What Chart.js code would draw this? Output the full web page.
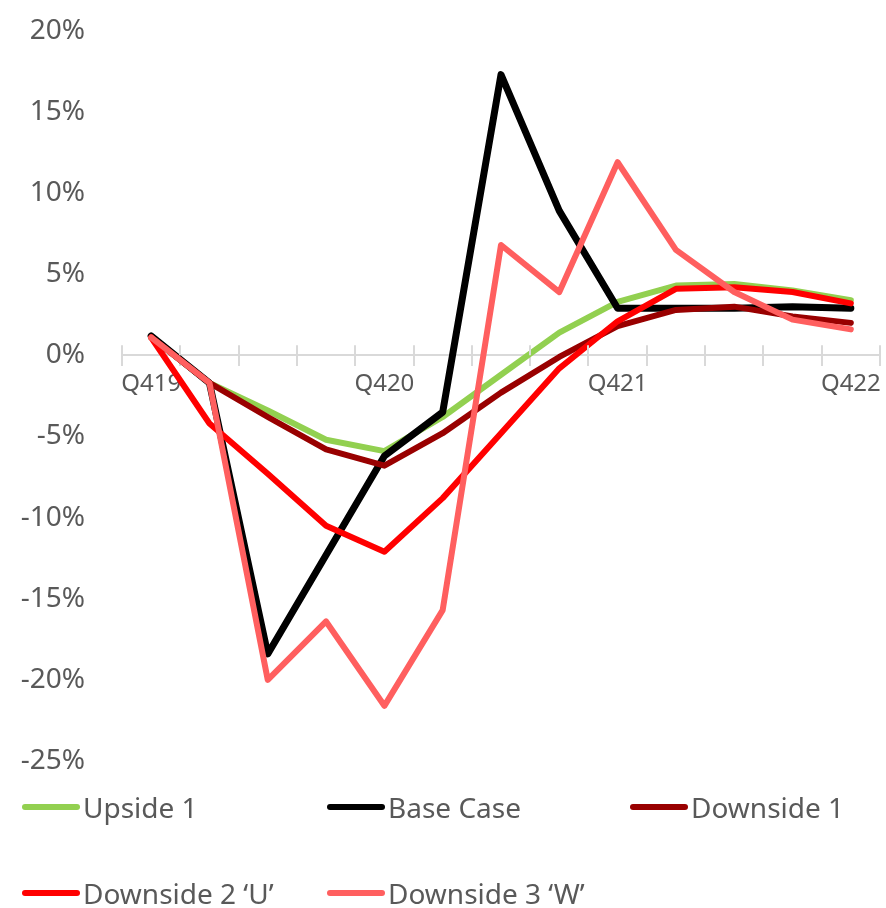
<!DOCTYPE html>
<html>
<head>
<meta charset="utf-8">
<script src="https://cdn.jsdelivr.net/npm/chart.js@4/dist/chart.umd.min.js"></script>
<style>
  html, body { margin: 0; padding: 0; background: #fff; overflow: hidden; }
  #wrap { position: relative; width: 886px; height: 908px; overflow: hidden; }
  #chart { position: absolute; left: 0; top: -23px; }
  .item { position: absolute; display: flex; align-items: center; font-family: "Noto Sans", sans-serif; font-size: 28px; color: #595959; white-space: nowrap; }
  .swatch { width: 58px; height: 6px; border-radius: 3px; margin-right: 3px; }
</style>
</head>
<body>
<div id="wrap">
  <canvas id="chart" width="886" height="931"></canvas>
</div>
<script>
// Quarterly labels (only every fourth one is shown on the axis)
const quarters = ['Q419', 'Q120', 'Q220', 'Q320', 'Q420', 'Q121', 'Q221', 'Q321', 'Q421', 'Q122', 'Q222', 'Q322', 'Q422'];

// Scenario paths, % change
const upside1     = [1.1, -1.7, -3.4, -5.2, -5.9, -3.8, -1.2, 1.4, 3.3, 4.3, 4.4, 4.0, 3.4];
const baseCase    = [1.2, -1.7, -18.4, -12.3, -6.2, -3.5, 17.3, 8.9, 2.9, 2.9, 2.9, 3.0, 2.9];
const downside1   = [1.1, -1.7, -3.8, -5.8, -6.8, -4.8, -2.3, -0.1, 1.8, 2.8, 3.0, 2.4, 2.0];
const downside2U  = [1.1, -4.2, -7.3, -10.5, -12.1, -8.8, -4.8, -0.8, 2.1, 4.1, 4.2, 3.9, 3.2];
const downside3W  = [1.1, -1.7, -20.0, -16.4, -21.6, -15.7, 6.8, 3.9, 11.9, 6.5, 3.9, 2.2, 1.6];

const seriesNames = ['Upside 1', 'Base Case', 'Downside 1', 'Downside 2 \u2018U\u2019', 'Downside 3 \u2018W\u2019'];
const seriesData = [upside1, baseCase, downside1, downside2U, downside3W];
const seriesColors = ['#92d050', '#000000', '#990000', '#ff0000', '#ff5f5f'];
const seriesWidths = [6, 7, 6, 6, 6];

// y-axis ticks
const yMin = -25, yMax = 20, yStep = 5;

const axisGrey = '#d9d9d9';
const textGrey = '#595959';

const datasets = seriesNames.map((name, i) => ({
  label: name,
  data: seriesData[i],
  borderColor: seriesColors[i],
  backgroundColor: seriesColors[i],
  borderWidth: seriesWidths[i],
  pointRadius: 0,
  tension: 0,
  borderCapStyle: 'round',
  borderJoinStyle: 'round',
  order: seriesNames.length - 1 - i
}));

// Category boundary ticks above the zero line (the scale draws the part below)
const upperTicks = {
  id: 'upperTicks',
  afterDraw(chart) {
    const x = chart.scales.x, y = chart.scales.y;
    const y0 = y.getPixelForValue(0);
    const step = x.getPixelForValue(1) - x.getPixelForValue(0);
    const ctx = chart.ctx;
    ctx.save();
    ctx.strokeStyle = axisGrey;
    ctx.lineWidth = 2;
    ctx.beginPath();
    for (let i = 0; i <= quarters.length; i++) {
      const px = Math.round(x.getPixelForValue(0) - step / 2 + i * step);
      ctx.moveTo(px, y0 - 10);
      ctx.lineTo(px, y0);
    }
    ctx.stroke();
    ctx.restore();
  }
};

new Chart(document.getElementById('chart'), {
  type: 'line',
  data: { labels: quarters, datasets },
  options: {
    responsive: false,
    animation: false,
    layout: { padding: { top: 10, right: 6, bottom: 147, left: 0 } },
    plugins: { legend: { display: false }, tooltip: { enabled: false } },
    scales: {
      x: {
        position: { y: 0 },
        offset: true,
        afterFit: s => { s.height = 0; },
        grid: { offset: true, drawOnChartArea: false, tickLength: 10, color: axisGrey, lineWidth: 2 },
        border: { color: axisGrey, width: 2 },
        ticks: {
          autoSkip: false,
          maxRotation: 0,
          padding: 4,
          color: textGrey,
          font: { family: 'Noto Sans', size: 24 },
          callback: (v, i) => (i % 4 === 0 ? quarters[i] : '')
        }
      },
      y: {
        min: yMin, max: yMax,
        afterFit: s => { s.width = 122; },
        grid: { display: false, drawTicks: false },
        border: { display: false },
        ticks: {
          stepSize: yStep,
          padding: 37,
          color: textGrey,
          font: { family: 'Noto Sans', size: 28 },
          callback: v => v + '%'
        }
      }
    }
  },
  plugins: [upperTicks]
});

// Legend laid out in a fixed three-column grid
const legendPos = [[22, 807], [327, 807], [630, 807], [22, 893], [327, 893]];
const wrap = document.getElementById('wrap');
seriesNames.forEach((name, i) => {
  const item = document.createElement('div');
  item.className = 'item';
  item.style.left = legendPos[i][0] + 'px';
  item.style.top = (legendPos[i][1] - 20) + 'px';
  item.style.height = '40px';
  const sw = document.createElement('span');
  sw.className = 'swatch';
  sw.style.background = seriesColors[i];
  const tx = document.createElement('span');
  tx.textContent = name;
  item.appendChild(sw);
  item.appendChild(tx);
  wrap.appendChild(item);
});
</script>
</body>
</html>
